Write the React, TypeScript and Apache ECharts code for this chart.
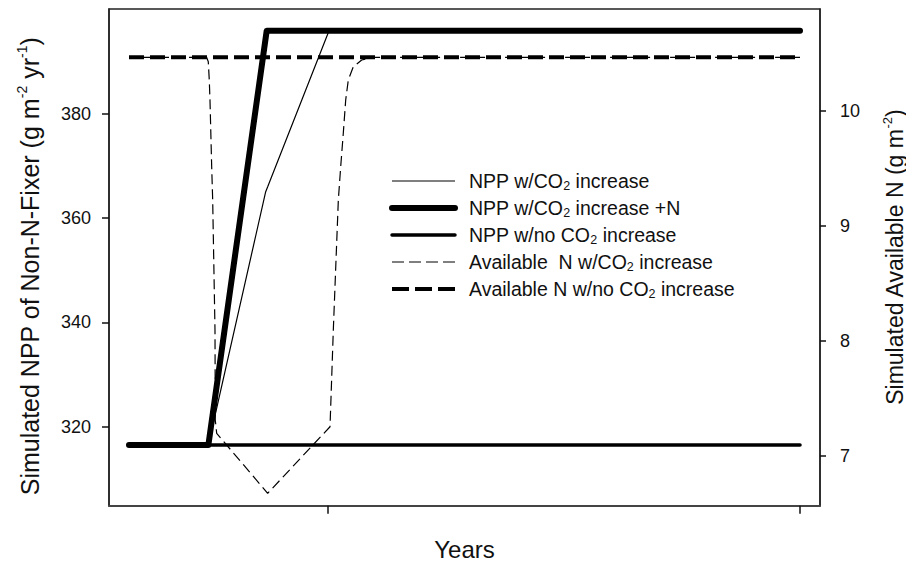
import React, { useEffect, useRef } from "react";
import * as echarts from "echarts";

// ---------- data ----------
const xTickValues = [2000, 2100];
const leftTickValues = [320, 340, 360, 380];
const rightTickValues = [7, 8, 9, 10];

const nppCO2Years = [1958, 1974.8, 1986.93, 1987.35, 2000.33, 2100];
const nppCO2Values = [316.5, 316.5, 365.05, 366.0, 395.9, 395.9];

const nppCO2NYears = [1958, 1974.8, 1987.14, 2100];
const nppCO2NValues = [316.5, 316.5, 395.9, 395.9];

const nppNoCO2Years = [1958, 2100];
const nppNoCO2Values = [316.5, 316.5];

const availNCO2Years = [
  1958, 1974.44, 1974.78, 1974.99, 1975.14, 1975.5, 1975.71, 1976.2, 1976.26,
  1976.56, 1987.35, 2000.54, 2001.24, 2002.3, 2002.8, 2003.35, 2003.86,
  2004.41, 2005.47, 2007.25, 2009.4, 2100,
];
const availNCO2Values = [
  10.467, 10.467, 10.429, 10.27, 10.096, 9.515, 9.225, 8.094, 7.311, 7.195,
  6.673, 7.252, 8.094, 9.225, 9.515, 9.806, 10.096, 10.27, 10.386, 10.444,
  10.467, 10.467,
];

const availNNoCO2Years = [1958, 2100];
const availNNoCO2Values = [10.467, 10.467];

const seriesNames = [
  "NPP w/CO2 increase",
  "NPP w/CO2 increase +N",
  "NPP w/no CO2 increase",
  "Available  N w/CO2 increase",
  "Available N w/no CO2 increase",
];
const legendLabels: Record<string, string> = {
  "NPP w/CO2 increase": "NPP w/CO{sub|2} increase",
  "NPP w/CO2 increase +N": "NPP w/CO{sub|2} increase +N",
  "NPP w/no CO2 increase": "NPP w/no CO{sub|2} increase",
  "Available  N w/CO2 increase": "Available  N w/CO{sub|2} increase",
  "Available N w/no CO2 increase": "Available N w/no CO{sub|2} increase",
};

const zip = (xs: number[], ys: number[]) => xs.map((x, i) => [x, ys[i]]);

const FONT = "'Liberation Sans', Arial, Helvetica, sans-serif";

export default function App() {
  const ref = useRef<HTMLDivElement>(null);

  useEffect(() => {
    if (!ref.current) return;
    const chart = echarts.init(ref.current, undefined, { renderer: "svg" });

    const axisLine = { show: true, onZero: false, lineStyle: { color: "#222", width: 1.5 } };

    const option: any = {
      animation: false,
      backgroundColor: "#ffffff",
      textStyle: { fontFamily: FONT, color: "#111" },
      grid: {
        left: 109,
        right: 86,
        top: 9,
        bottom: 60.3,
        show: true,
        borderColor: "#222",
        borderWidth: 1.5,
        backgroundColor: "transparent",
        containLabel: false,
        outerBoundsMode: "none",
      },
      xAxis: {
        type: "value",
        min: 1953.77,
        max: 2104.23,
        axisLine: { show: true, onZero: false, lineStyle: { color: "#444", width: 2 } },
        axisTick: { show: true, customValues: xTickValues, length: 8, lineStyle: { color: "#111", width: 1.5 } },
        axisLabel: { show: false },
        splitLine: { show: false },
        name: "Years",
        nameLocation: "middle",
        nameGap: 32,
        nameTextStyle: { fontSize: 24, color: "#111", fontFamily: FONT },
      },
      yAxis: [
        {
          type: "value",
          position: "left",
          min: 304.86,
          max: 400.07,
          axisLine,
          axisTick: { show: true, customValues: leftTickValues, length: 7, lineStyle: { color: "#111", width: 1.5 } },
          axisLabel: { customValues: leftTickValues, fontSize: 18, color: "#111", margin: 18, fontFamily: FONT },
          splitLine: { show: false },
          name: "Simulated NPP of Non-N-Fixer (g m{sup|-2} yr{sup|-1})",
          nameLocation: "middle",
          nameRotate: 90,
          nameGap: 65,
          nameTextStyle: {
            fontSize: 25,
            color: "#111",
            fontFamily: FONT,
            lineHeight: 29,
            padding: [0, 18, 0, 0],
            rich: { sup: { fontSize: 14, lineHeight: 14, verticalAlign: "top", color: "#111", fontFamily: FONT } },
          },
        },
        {
          type: "value",
          position: "right",
          min: 6.565,
          max: 10.888,
          axisLine,
          axisTick: { show: true, customValues: rightTickValues, length: 6, lineStyle: { color: "#111", width: 1.5 } },
          axisLabel: { customValues: rightTickValues, fontSize: 18, color: "#111", margin: 20, fontFamily: FONT },
          splitLine: { show: false },
          name: "Simulated Available N (g m{sup|-2})",
          nameLocation: "middle",
          nameRotate: 90,
          nameGap: 61,
          nameTextStyle: {
            fontSize: 23,
            color: "#111",
            fontFamily: FONT,
            lineHeight: 27,
            rich: { sup: { fontSize: 13, lineHeight: 13, verticalAlign: "top", color: "#111", fontFamily: FONT } },
          },
        },
      ],
      legend: {
        orient: "vertical",
        left: 384,
        top: 165,
        itemWidth: 63,
        itemHeight: 14,
        itemGap: 5,
        selectedMode: false,
        data: [
          { name: seriesNames[0], lineStyle: { width: 1.2, type: "solid", color: "#000" }, itemStyle: { opacity: 0 } },
          { name: seriesNames[1], lineStyle: { width: 6, type: "solid", color: "#000", cap: "round" }, itemStyle: { opacity: 0 } },
          { name: seriesNames[2], lineStyle: { width: 3.5, type: "solid", color: "#000", cap: "round" }, itemStyle: { opacity: 0 } },
          { name: seriesNames[3], lineStyle: { width: 1.2, type: [12, 5], color: "#000" }, itemStyle: { opacity: 0 } },
          { name: seriesNames[4], lineStyle: { width: 4, type: [17, 6], color: "#000" }, itemStyle: { opacity: 0 } },
        ],
        formatter: (name: string) => legendLabels[name] || name,
        textStyle: {
          fontSize: 19.5,
          color: "#111",
          fontFamily: FONT,
          lineHeight: 22,
          padding: [0, 0, 0, 9],
          rich: { sub: { fontSize: 12.5, lineHeight: 12, verticalAlign: "bottom", color: "#111", fontFamily: FONT } },
        },
      },
      series: [
        {
          name: seriesNames[2],
          type: "line",
          yAxisIndex: 0,
          symbol: "none",
          data: zip(nppNoCO2Years, nppNoCO2Values),
          lineStyle: { color: "#000", width: 3.5, cap: "round" },
          z: 2,
        },
        {
          name: seriesNames[0],
          type: "line",
          yAxisIndex: 0,
          symbol: "none",
          data: zip(nppCO2Years, nppCO2Values),
          lineStyle: { color: "#000", width: 1.2 },
          z: 3,
        },
        {
          name: seriesNames[1],
          type: "line",
          yAxisIndex: 0,
          symbol: "none",
          data: zip(nppCO2NYears, nppCO2NValues),
          lineStyle: { color: "#000", width: 6, cap: "round", join: "round" },
          z: 4,
        },
        {
          name: seriesNames[3],
          type: "line",
          yAxisIndex: 1,
          symbol: "none",
          smooth: false,
          data: zip(availNCO2Years, availNCO2Values),
          lineStyle: { color: "#000", width: 1.2, type: [10, 5] },
          z: 3,
        },
        {
          name: seriesNames[4],
          type: "line",
          yAxisIndex: 1,
          symbol: "none",
          data: zip(availNNoCO2Years, availNNoCO2Values),
          lineStyle: { color: "#000", width: 4, type: [15, 6] },
          z: 3,
        },
      ],
    };

    chart.setOption(option);
    return () => chart.dispose();
  }, []);

  return (
    <div
      ref={ref}
      style={{ position: "fixed", left: 0, top: 0, width: 906, height: 566, background: "#fff" }}
    />
  );
}
